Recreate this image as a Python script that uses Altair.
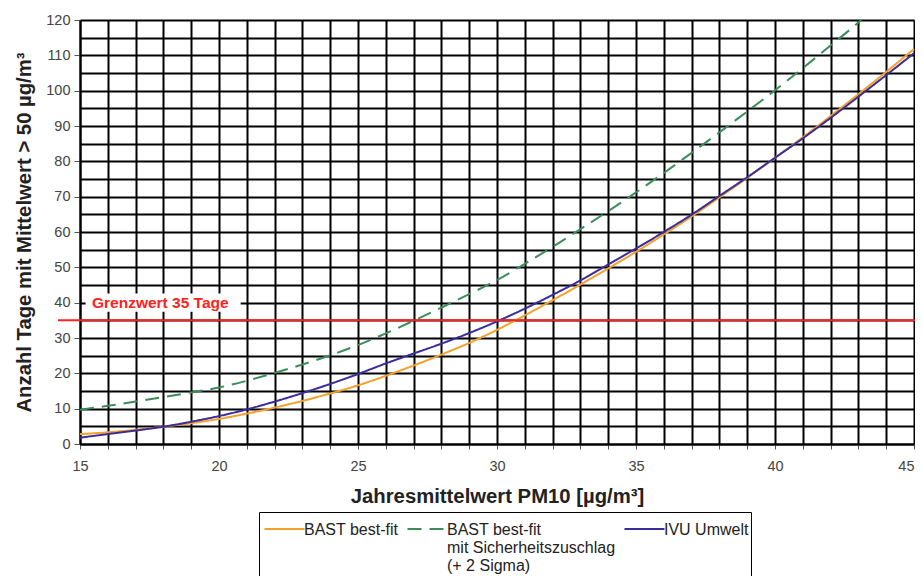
import altair as alt
import pandas as pd

# ---- data ----
x_vals = list(range(15, 46))
bast_best_fit = [2.8, 3.3, 4.0, 4.9, 5.9, 7.1, 8.6, 10.3, 12.2, 14.3, 16.6, 19.3, 22.2, 25.3, 28.6,
                 32.3, 36.4, 40.7, 45.1, 49.7, 54.4, 59.3, 64.4, 69.8, 75.3, 81.0, 86.8, 92.8, 99.0,
                 105.3, 111.8]
ivu_umwelt = [1.8, 2.8, 3.8, 4.9, 6.3, 7.9, 9.8, 12.0, 14.4, 17.0, 19.8, 22.8, 25.6, 28.4, 31.4,
              34.7, 38.3, 42.2, 46.3, 50.8, 55.3, 60.0, 64.9, 70.2, 75.5, 81.0, 86.5, 92.3, 98.3,
              104.4, 110.6]
x_sigma = list(range(15, 44)) + [43.1]
bast_sigma = [9.7, 10.8, 12.0, 13.3, 14.6, 16.0, 17.9, 20.1, 22.5, 25.1, 28.0, 31.3, 34.9, 38.6,
              42.4, 46.4, 51.0, 55.8, 60.8, 65.9, 71.2, 76.7, 82.4, 88.2, 94.1, 100.1, 106.4,
              112.8, 119.3, 120.0]

series_names = ["BAST best-fit",
                "BAST best-fit mit Sicherheitszuschlag (+ 2 Sigma)",
                "IVU Umwelt"]
series_colors = ["#f5a02a", "#3d8c5c", "#3a2c9c"]
series_dash = [[1, 0], [14, 8], [1, 0]]

limit_value = [35]
limit_label = ["Grenzwert 35 Tage"]
label_pos_x = [15.43]
label_pos_y = [40]
label_box_x = [15.2]
label_box_x2 = [20.78]
label_box_y = [37.4]
label_box_y2 = [42.6]

x_ticks = list(range(15, 46))
y_ticks = list(range(0, 121, 5))

rows = []
for xv, yv in zip(x_vals, bast_best_fit):
    rows.append({"x": xv, "y": yv, "series": series_names[0]})
for xv, yv in zip(x_sigma, bast_sigma):
    rows.append({"x": xv, "y": yv, "series": series_names[1]})
for xv, yv in zip(x_vals, ivu_umwelt):
    rows.append({"x": xv, "y": yv, "series": series_names[2]})
df = pd.DataFrame(rows)

FONT = "Liberation Sans"
W, H = 834, 424

x_axis = alt.Axis(values=x_ticks,
                  labelExpr="datum.value % 5 === 0 ? datum.label : ''",
                  labelAlign={"condition": {"test": "datum.value === 45", "value": "right"}, "value": "center"},
                  grid=True, gridColor="black", gridWidth=2, gridOpacity=1,
                  domainColor="black", domainWidth=2,
                  tickColor="#555", tickSize=5, tickWidth=1,
                  labelFont=FONT, labelFontSize=14.5, labelColor="#444",
                  labelPadding=10, labelFlush=False,
                  title="Jahresmittelwert PM10 [µg/m³]",
                  titleFont=FONT, titleFontSize=20.3, titleFontWeight="bold",
                  titleColor="#222", titlePadding=14)
y_axis = alt.Axis(values=y_ticks,
                  labelExpr="datum.value % 10 === 0 ? datum.label : ''",
                  grid=True, gridColor="black", gridWidth=2, gridOpacity=1,
                  domainColor="black", domainWidth=2,
                  tickColor="#555", tickSize=6, tickWidth=1,
                  tickOpacity={"condition": {"test": "datum.value % 10 === 0", "value": 1}, "value": 0},
                  labelFont=FONT, labelFontSize=14.5, labelColor="#444",
                  labelPadding=4,
                  title="Anzahl Tage mit Mittelwert > 50 µg/m³",
                  titleFont=FONT, titleFontSize=20.3, titleFontWeight="bold",
                  titleColor="#222", titlePadding=11)
x_scale = alt.Scale(domain=[15, 45], nice=False, zero=False)
y_scale = alt.Scale(domain=[0, 120], nice=False)

legend_label_expr = (
    "datum.label == 'BAST best-fit mit Sicherheitszuschlag (+ 2 Sigma)' ? "
    "['BAST best-fit', 'mit Sicherheitszuschlag', '(+ 2 Sigma)'] : [datum.label, ' ', ' ']"
)

lines = alt.Chart(df).mark_line(strokeWidth=2, interpolate="monotone").encode(
    x=alt.X("x:Q", scale=x_scale, axis=x_axis),
    y=alt.Y("y:Q", scale=y_scale, axis=y_axis),
    color=alt.Color("series:N",
                    scale=alt.Scale(domain=series_names, range=series_colors),
                    sort=series_names,
                    legend=alt.Legend(
                        orient="none", legendX=179, legendY=492,
                        direction="horizontal", columns=3, title=None,
                        symbolType="M-1.5,2.33H11.83", symbolSize=36, symbolStrokeWidth=2,
                        labelFont=FONT, labelFontSize=16, labelColor="#222",
                        labelBaseline="top",
                        labelExpr=legend_label_expr,
                        labelLimit=400, labelOffset=27, columnPadding=4,
                        strokeColor="black", fillColor="white", padding=2)),
    strokeDash=alt.StrokeDash("series:N",
                              scale=alt.Scale(domain=series_names, range=series_dash),
                              sort=series_names, legend=None),
)

limit_df = pd.DataFrame({"y": limit_value})
limit_rule = alt.Chart(limit_df).mark_rule(color="#ff2020", strokeWidth=2, clip=False).encode(
    y=alt.Y("y:Q", scale=y_scale, axis=y_axis),
    x=alt.value(-22),
    x2=alt.value(W + 1),
)

box_df = pd.DataFrame({"x": label_box_x, "x2": label_box_x2, "y": label_box_y, "y2": label_box_y2})
label_box = alt.Chart(box_df).mark_rect(color="white", opacity=1).encode(
    x=alt.X("x:Q", scale=x_scale, axis=x_axis), x2="x2:Q",
    y=alt.Y("y:Q", scale=y_scale, axis=y_axis), y2="y2:Q",
)

text_df = pd.DataFrame({"x": label_pos_x, "y": label_pos_y, "t": limit_label})
label_text = alt.Chart(text_df).mark_text(
    align="left", baseline="middle", font=FONT, fontSize=15.5, fontWeight="bold", color="#ff2020"
).encode(
    x=alt.X("x:Q", scale=x_scale, axis=x_axis),
    y=alt.Y("y:Q", scale=y_scale, axis=y_axis),
    text="t:N",
)

chart = alt.layer(lines, limit_rule, label_box, label_text).properties(
    width=W, height=H,
    autosize=alt.AutoSizeParams(type="none"),
    padding={"left": 72, "top": 12, "right": 1, "bottom": 132},
    background="white",
).configure_view(stroke=None)

chart.save("out.html", embed_options={"renderer": "svg", "actions": False})
